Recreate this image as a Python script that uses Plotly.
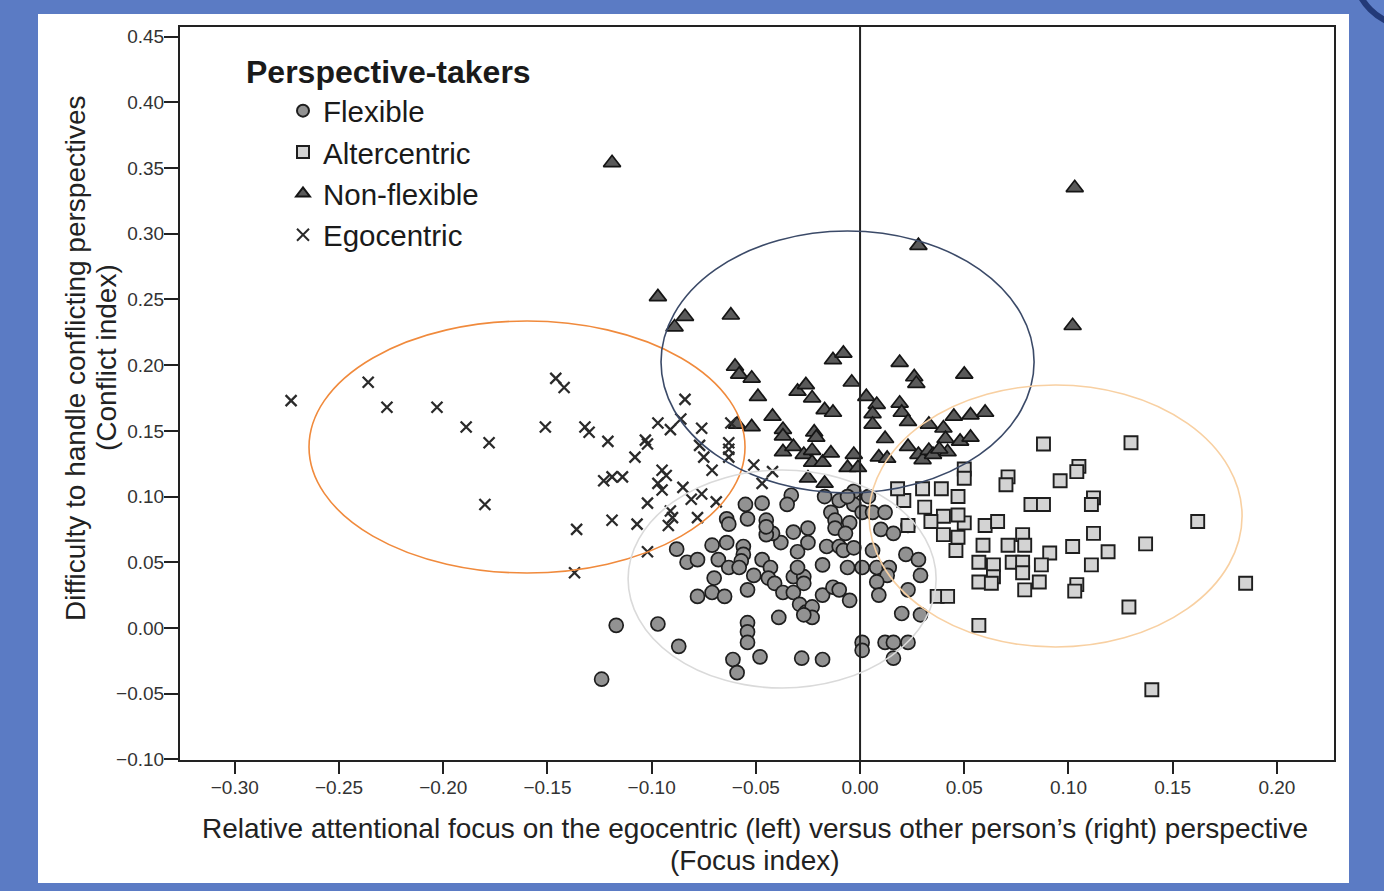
import plotly.graph_objects as go

# ---------------- data ----------------
flex_x = [-0.124, -0.117, -0.097, -0.087, -0.088, -0.083, -0.078, -0.071, -0.064, -0.068,
          -0.063, -0.070, -0.071, -0.078, -0.065, -0.056, -0.056, -0.057, -0.058, -0.051,
          -0.054, -0.047, -0.043, -0.044, -0.041, -0.037, -0.032, -0.027, -0.027, -0.032,
          -0.029, -0.026, -0.023, -0.023, -0.027, -0.039, -0.054, -0.054, -0.054, -0.061,
          -0.059, -0.048, -0.028, -0.018, -0.018, -0.013, -0.010, -0.005, -0.030, -0.030,
          -0.016, -0.018, -0.038, -0.032, -0.025, -0.025, -0.042, -0.045, -0.045, -0.045,
          -0.064, -0.054, -0.055, -0.047, -0.033, -0.035, -0.010, -0.003, -0.003, -0.014,
          -0.012, -0.005, 0.001, 0.006, 0.012, 0.010, 0.016, 0.023, -0.012, -0.007,
          -0.010, -0.008, -0.003, 0.006, -0.006, 0.001, 0.008, 0.014, 0.013, 0.022,
          0.028, 0.029, 0.008, 0.009, 0.023, 0.020, 0.029, 0.001, 0.001, 0.012,
          0.016, 0.023, 0.016, -0.017, -0.006, 0.004, -0.063]
flex_y = [-0.039, 0.002, 0.003, -0.014, 0.060, 0.050, 0.052, 0.063, 0.065, 0.052,
          0.046, 0.038, 0.027, 0.024, 0.024, 0.062, 0.056, 0.051, 0.046, 0.040,
          0.029, 0.052, 0.046, 0.038, 0.034, 0.027, 0.039, 0.039, 0.034, 0.027,
          0.018, 0.012, 0.016, 0.008, 0.010, 0.008, 0.004, -0.003, -0.011, -0.024,
          -0.034, -0.022, -0.023, -0.024, 0.025, 0.031, 0.029, 0.021, 0.058, 0.046,
          0.062, 0.048, 0.065, 0.073, 0.076, 0.065, 0.072, 0.071, 0.082, 0.077,
          0.083, 0.083, 0.094, 0.095, 0.101, 0.094, 0.097, 0.104, 0.094, 0.088,
          0.082, 0.080, 0.088, 0.088, 0.088, 0.075, 0.072, 0.078, 0.076, 0.072,
          0.062, 0.059, 0.061, 0.059, 0.046, 0.046, 0.046, 0.046, 0.040, 0.056,
          0.052, 0.040, 0.035, 0.025, 0.029, 0.011, 0.010, -0.011, -0.017, -0.011,
          -0.011, -0.011, -0.023, 0.100, 0.100, 0.100, 0.079]

alter_x = [0.088, 0.130, 0.105, 0.104, 0.096, 0.071, 0.070, 0.050, 0.050, 0.082,
           0.088, 0.112, 0.111, 0.162, 0.112, 0.119, 0.137, 0.102, 0.111, 0.091,
           0.078, 0.079, 0.071, 0.073, 0.087, 0.078, 0.078, 0.086, 0.079, 0.064,
           0.057, 0.057, 0.064, 0.063, 0.059, 0.046, 0.050, 0.060, 0.066, 0.040,
           0.047, 0.040, 0.047, 0.034, 0.031, 0.021, 0.018, 0.030, 0.039, 0.047,
           0.023, 0.104, 0.103, 0.129, 0.057, 0.037, 0.042, 0.185, 0.140]
alter_y = [0.140, 0.141, 0.123, 0.119, 0.112, 0.115, 0.109, 0.121, 0.114, 0.094,
           0.094, 0.099, 0.094, 0.081, 0.072, 0.058, 0.064, 0.062, 0.048, 0.057,
           0.071, 0.063, 0.063, 0.050, 0.048, 0.050, 0.042, 0.035, 0.029, 0.048,
           0.050, 0.035, 0.039, 0.034, 0.063, 0.059, 0.080, 0.078, 0.081, 0.085,
           0.086, 0.071, 0.069, 0.081, 0.092, 0.097, 0.106, 0.106, 0.106, 0.100,
           0.078, 0.033, 0.028, 0.016, 0.002, 0.024, 0.024, 0.034, -0.047]

nonflex_x = [-0.119, 0.103, 0.028, -0.097, -0.084, -0.089, -0.062, 0.102, -0.060, -0.058,
             -0.052, -0.049, -0.030, -0.026, -0.023, -0.017, -0.013, -0.013, -0.008, -0.004,
             -0.042, -0.037, -0.037, -0.059, -0.052, -0.022, -0.021, -0.037, -0.032, -0.027,
             -0.023, -0.023, -0.018, -0.014, -0.003, -0.006, -0.001, -0.025, -0.017, 0.003,
             0.008, 0.006, 0.006, 0.012, 0.009, 0.013, 0.019, 0.019, 0.020, 0.023,
             0.026, 0.027, 0.033, 0.023, 0.028, 0.030, 0.033, 0.035, 0.040, 0.041,
             0.045, 0.048, 0.053, 0.050, 0.053, 0.060, 0.042, 0.038]
nonflex_y = [0.354, 0.335, 0.291, 0.252, 0.237, 0.229, 0.238, 0.230, 0.199, 0.193,
             0.190, 0.176, 0.180, 0.185, 0.175, 0.166, 0.164, 0.204, 0.209, 0.187,
             0.161, 0.151, 0.146, 0.155, 0.153, 0.149, 0.145, 0.134, 0.138, 0.132,
             0.135, 0.126, 0.126, 0.133, 0.132, 0.122, 0.122, 0.114, 0.110, 0.176,
             0.170, 0.163, 0.155, 0.144, 0.130, 0.129, 0.202, 0.171, 0.164, 0.157,
             0.191, 0.186, 0.155, 0.138, 0.132, 0.128, 0.135, 0.132, 0.152, 0.144,
             0.161, 0.142, 0.145, 0.193, 0.162, 0.164, 0.134, 0.136]

ego_x = [-0.273, -0.236, -0.227, -0.203, -0.189, -0.178, -0.180, -0.146, -0.142, -0.151,
         -0.132, -0.130, -0.121, -0.136, -0.137, -0.084, -0.097, -0.091, -0.086, -0.076,
         -0.103, -0.102, -0.108, -0.077, -0.063, -0.063, -0.063, -0.062, -0.075, -0.071,
         -0.123, -0.119, -0.114, -0.095, -0.093, -0.097, -0.095, -0.085, -0.102, -0.081,
         -0.076, -0.069, -0.091, -0.090, -0.119, -0.107, -0.078, -0.102, -0.051, -0.042,
         -0.047, -0.092]
ego_y = [0.173, 0.187, 0.168, 0.168, 0.153, 0.141, 0.094, 0.190, 0.183, 0.153,
         0.153, 0.149, 0.142, 0.075, 0.042, 0.174, 0.156, 0.151, 0.159, 0.152,
         0.143, 0.140, 0.130, 0.139, 0.141, 0.136, 0.130, 0.156, 0.130, 0.120,
         0.112, 0.115, 0.115, 0.120, 0.116, 0.110, 0.105, 0.107, 0.095, 0.098,
         0.102, 0.096, 0.089, 0.084, 0.082, 0.079, 0.084, 0.058, 0.124, 0.119,
         0.110, 0.078]

x_ticks = [-0.30, -0.25, -0.20, -0.15, -0.10, -0.05, 0.00, 0.05, 0.10, 0.15, 0.20]
y_ticks = [-0.10, -0.05, 0.00, 0.05, 0.10, 0.15, 0.20, 0.25, 0.30, 0.35, 0.40, 0.45]

# cluster ellipses: (x0, x1, y0, y1, colour)
ellipses = [
    (-0.2644, -0.0552, 0.0418, 0.2336, "#f08a3c"),
    (-0.0955, 0.0835, 0.1027, 0.3021, "#3b4a68"),
    (-0.1113, 0.0365, -0.0457, 0.1202, "#dadada"),
    (0.0043, 0.1833, -0.0145, 0.1849, "#f8d0a2"),
]

# ---------------- figure ----------------
FONT = "Liberation Sans, Arial, sans-serif"
W, H = 1384, 891
L, R, T, B = 180, 50, 27, 131
PW, PH = W - L - R, H - T - B


def px(xp):
    return (xp - L) / PW


def py(yp):
    return (H - B - yp) / PH


fig = go.Figure()

fig.add_trace(go.Scatter(x=flex_x, y=flex_y, mode="markers", name="Flexible",
                         marker=dict(symbol="circle", size=14, color="#929292",
                                     line=dict(color="#1e1e1e", width=1.7))))
fig.add_trace(go.Scatter(x=alter_x, y=alter_y, mode="markers", name="Altercentric",
                         marker=dict(symbol="square", size=13, color="#d3d3d3",
                                     line=dict(color="#1e1e1e", width=1.9))))
fig.add_trace(go.Scatter(x=nonflex_x, y=nonflex_y, mode="markers", name="Non-flexible",
                         marker=dict(symbol="triangle-up", size=15, color="#5a5a5a",
                                     line=dict(color="#151515", width=1.7))))
fig.add_trace(go.Scatter(x=ego_x, y=ego_y, mode="markers", name="Egocentric",
                         marker=dict(symbol="x-thin-open", size=11, color="#2a2a2a",
                                     line=dict(color="#2a2a2a", width=2.3))))

shapes = [
    # decorative round element in the top-right corner
    dict(type="circle", xref="paper", yref="paper", x0=px(1354), x1=px(1466),
         y0=py(26), y1=py(-86), fillcolor="#5f80c9", line=dict(color="#233a78", width=6),
         layer="below"),
    # white panel over the blue background
    dict(type="rect", xref="paper", yref="paper", x0=px(38), x1=px(1349), y0=py(883), y1=py(14),
         fillcolor="white", line=dict(width=0), layer="below"),
    # zero line
    dict(type="line", xref="x", yref="paper", x0=0, x1=0, y0=0, y1=1,
         line=dict(color="#222222", width=2)),
]
for x0, x1, y0, y1, col in ellipses:
    shapes.append(dict(type="circle", xref="x", yref="y", x0=x0, x1=x1, y0=y0, y1=y1,
                       line=dict(color=col, width=1.6), layer="above"))

TITLE_FONT = dict(family=FONT, size=28, color="#222222")
annotations = [
    dict(text="<b>Perspective-takers</b>", xref="paper", yref="paper",
         x=px(244), y=py(72), xanchor="left", yanchor="middle",
         showarrow=False, font=dict(family=FONT, size=32, color="#1a1a1a")),
    dict(text="Relative attentional focus on the egocentric (left) versus other person’s (right) perspective",
         xref="paper", yref="paper", x=px(755), y=py(828), xanchor="center", yanchor="middle",
         showarrow=False, font=TITLE_FONT),
    dict(text="(Focus index)", xref="paper", yref="paper", x=px(755), y=py(860),
         xanchor="center", yanchor="middle", showarrow=False, font=TITLE_FONT),
    dict(text="Difficulty to handle conflicting perspectives", xref="paper", yref="paper",
         x=px(75), y=py(358), xanchor="center", yanchor="middle", textangle=-90,
         showarrow=False, font=TITLE_FONT),
    dict(text="(Conflict index)", xref="paper", yref="paper",
         x=px(106), y=py(358), xanchor="center", yanchor="middle", textangle=-90,
         showarrow=False, font=TITLE_FONT),
]

fig.update_layout(
    width=W, height=H,
    margin=dict(l=L, r=R, t=T, b=B),
    paper_bgcolor="#5b7bc4",
    plot_bgcolor="white",
    font=dict(family=FONT, color="#333333"),
    shapes=shapes,
    annotations=annotations,
    showlegend=True,
    legend=dict(x=px(283), y=py(85), xanchor="left", yanchor="top",
                bgcolor="rgba(0,0,0,0)", borderwidth=0, itemsizing="constant",
                font=dict(family=FONT, size=29.5, color="#1a1a1a"), tracegroupgap=0),
)

fig.update_xaxes(range=[-0.3263, 0.2274], tickvals=x_ticks, tickformat=".2f",
                 showgrid=False, zeroline=False, showline=True, mirror=True,
                 linecolor="#222222", linewidth=2, ticks="outside", ticklen=12,
                 tickwidth=2, tickcolor="#222222", ticklabelstandoff=-3,
                 tickfont=dict(family=FONT, size=19, color="#333333"))
fig.update_yaxes(range=[-0.1005, 0.4574], tickvals=y_ticks, tickformat=".2f",
                 showgrid=False, zeroline=False, showline=True, mirror=True,
                 linecolor="#222222", linewidth=2, ticks="outside", ticklen=14,
                 tickwidth=2, tickcolor="#222222", ticklabelstandoff=-4,
                 tickfont=dict(family=FONT, size=19, color="#333333"))

fig.write_html("out.html", config={"displayModeBar": False},
               post_script="document.body.style.margin='0';document.body.style.padding='0';")
